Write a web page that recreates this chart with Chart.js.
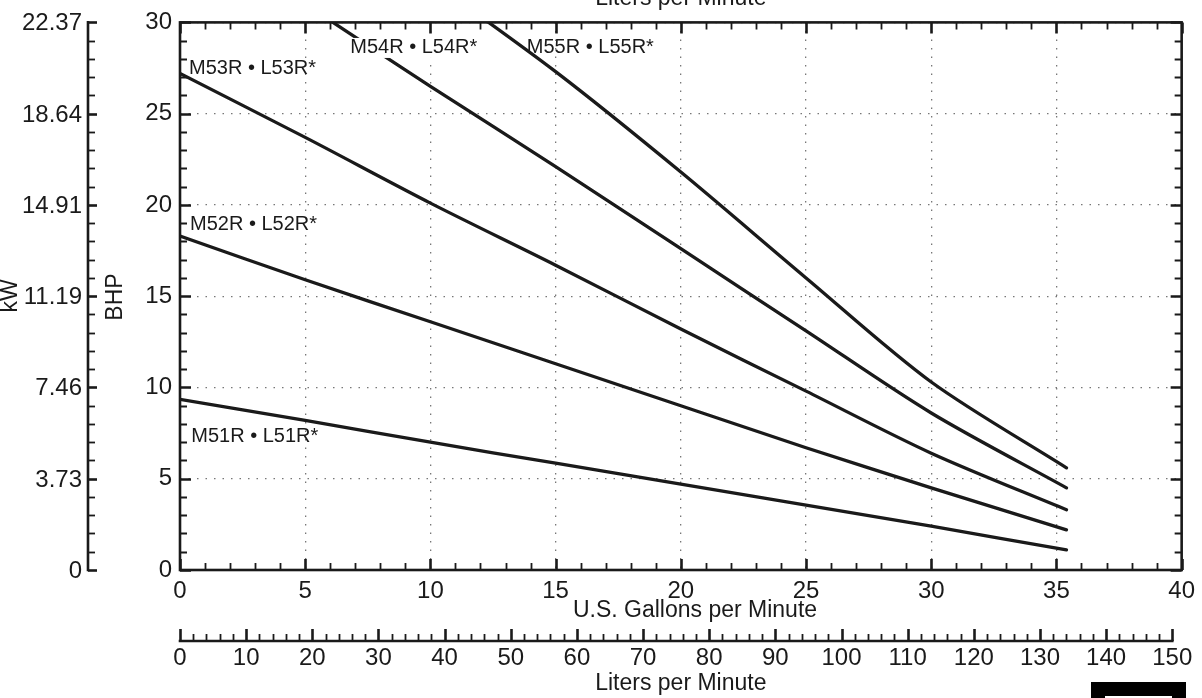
<!DOCTYPE html>
<html><head><meta charset="utf-8">
<script src="https://cdn.jsdelivr.net/npm/chart.js@4.4.1/dist/chart.umd.min.js"></script>
<style>html,body{margin:0;padding:0;background:#fff;overflow:hidden}#wrap{position:relative;width:1202px;height:698px}</style>
</head><body><div id="wrap"><canvas id="c" width="1202" height="698"></canvas></div>
<script>
// ---- data ----
const gpm = [0, 5, 10, 15, 20, 25, 30, 35.4];
const m51 = [9.35, 8.2, 7.0, 5.85, 4.7, 3.55, 2.4, 1.1];
const m52 = [18.3, 15.9, 13.6, 11.3, 9.0, 6.7, 4.5, 2.2];
const m53 = [27.2, 23.7, 20.1, 16.7, 13.2, 9.8, 6.4, 3.3];
const m54 = [null, 31.0, 26.5, 22.1, 17.6, 13.1, 8.6, 4.5];
const m55 = [null, null, 32.3, 27.3, 21.8, 16.0, 10.3, 5.6];
const seriesNames = ['M51R • L51R*', 'M52R • L52R*', 'M53R • L53R*', 'M54R • L54R*', 'M55R • L55R*'];
const gpmTicks = [0, 5, 10, 15, 20, 25, 30, 35, 40];
const bhpTicks = [0, 5, 10, 15, 20, 25, 30];
const kwLabels = ['0', '3.73', '7.46', '11.19', '14.91', '18.64', '22.37'];
const lpmLabels = [0, 10, 20, 30, 40, 50, 60, 70, 80, 90, 100, 110, 120, 130, 140, 150];
const xTitle = 'U.S. Gallons per Minute';
const lpmTitle = 'Liters per Minute';
const bhpTitle = 'BHP';
const kwTitle = 'kW';
// label anchors (gpm, bhp)
const labelAnchors = [[0.45, 7.3], [0.4, 18.95], [0.36, 27.5], [6.8, 28.6], [13.85, 28.6]];

const KW_PER_HP = 0.7457;
const L_PER_GAL = 3.78541;
const FONT = "'Liberation Sans', Arial, Helvetica, sans-serif";
const INK = '#1a1a1a';
const TXT = '#1a1a1a';

const allSeries = [m51, m52, m53, m54, m55];

const framePlugin = {
  id: 'frame',
  afterDatasetsDraw(chart) {
    const ctx = chart.ctx;
    const a = chart.chartArea;
    const x = chart.scales.x, y = chart.scales.y, kw = chart.scales.kw, lpm = chart.scales.lpm;
    ctx.save();
    ctx.strokeStyle = INK; ctx.fillStyle = INK;
    ctx.lineCap = 'butt';
    // frame
    ctx.lineWidth = 2.6;
    ctx.strokeRect(a.left, a.top, a.right - a.left, a.bottom - a.top);
    // inward ticks on x (top & bottom)
    for (let v = 0; v <= 40; v++) {
      const px = Math.round(x.getPixelForValue(v)) + 0.5;
      const len = v % 5 === 0 ? 11 : 7;
      ctx.lineWidth = v % 5 === 0 ? 2.6 : 1.8;
      ctx.beginPath();
      ctx.moveTo(px, a.bottom); ctx.lineTo(px, a.bottom - len);
      ctx.moveTo(px, a.top); ctx.lineTo(px, a.top + len);
      ctx.stroke();
    }
    for (let v = 0; v <= 30; v++) {
      const py = Math.round(y.getPixelForValue(v)) + 0.5;
      const len = v % 5 === 0 ? 11 : 7;
      ctx.lineWidth = v % 5 === 0 ? 2.6 : 1.8;
      ctx.beginPath();
      ctx.moveTo(a.left, py); ctx.lineTo(a.left + len, py);
      ctx.moveTo(a.right, py); ctx.lineTo(a.right - len, py);
      ctx.stroke();
    }
    // kW axis
    const kwX = 88;
    const kwMax = parseFloat(kwLabels[kwLabels.length - 1]);
    ctx.lineWidth = 2.6;
    ctx.beginPath();
    ctx.moveTo(kwX, kw.getPixelForValue(0) + 1.3);
    ctx.lineTo(kwX, kw.getPixelForValue(kwMax) - 1.3);
    ctx.stroke();
    const kwStep = kwMax / (kwLabels.length - 1);
    ctx.font = '24px ' + FONT;
    ctx.textAlign = 'right'; ctx.textBaseline = 'middle';
    for (let i = 0; i < kwLabels.length; i++) {
      const base = i * kwStep;
      const py = Math.round(kw.getPixelForValue(base)) + 0.5;
      ctx.lineWidth = 2.6;
      ctx.beginPath(); ctx.moveTo(kwX, py); ctx.lineTo(kwX + 9, py); ctx.stroke();
      ctx.fillStyle = TXT;
      ctx.fillText(kwLabels[i], 82, py + 1);
      if (i < kwLabels.length - 1) {
        for (let j = 1; j < 5; j++) {
          const pm = Math.round(kw.getPixelForValue(base + j * kwStep / 5)) + 0.5;
          ctx.lineWidth = 1.8;
          ctx.beginPath(); ctx.moveTo(kwX, pm); ctx.lineTo(kwX + 7, pm); ctx.stroke();
        }
      }
    }
    // L/min axis
    const lY = 641;
    const lMax = lpmLabels[lpmLabels.length - 1];
    ctx.lineWidth = 2.6;
    ctx.beginPath();
    ctx.moveTo(lpm.getPixelForValue(0) - 1.3, lY);
    ctx.lineTo(lpm.getPixelForValue(lMax) + 1.3, lY);
    ctx.stroke();
    for (let v = 0; v <= lMax; v += 2) {
      const px = Math.round(lpm.getPixelForValue(v)) + 0.5;
      const major = v % 10 === 0;
      ctx.lineWidth = major ? 2.6 : 1.8;
      ctx.beginPath(); ctx.moveTo(px, lY); ctx.lineTo(px, lY - (major ? 12 : 7)); ctx.stroke();
    }
    ctx.textAlign = 'center'; ctx.textBaseline = 'middle';
    ctx.fillStyle = TXT;
    lpmLabels.forEach(v => ctx.fillText(String(v), lpm.getPixelForValue(v), 658));
    // titles
    ctx.font = '23px ' + FONT;
    ctx.fillText(xTitle, 695, 611);
    ctx.fillText(lpmTitle, (a.left + a.right) / 2, 684);
    ctx.textBaseline = 'alphabetic';
    ctx.fillText(lpmTitle, (a.left + a.right) / 2, 5);
    ctx.textBaseline = 'middle';
    ctx.save(); ctx.translate(11, 296); ctx.rotate(-Math.PI / 2); ctx.fillText(kwTitle, 0, 0); ctx.restore();
    ctx.save(); ctx.translate(116, 297); ctx.rotate(-Math.PI / 2); ctx.fillText(bhpTitle, 0, 0); ctx.restore();
    // series labels
    ctx.font = '20px ' + FONT;
    ctx.textAlign = 'left'; ctx.textBaseline = 'middle';
    seriesNames.forEach((name, i) => {
      const px = x.getPixelForValue(labelAnchors[i][0]);
      const py = y.getPixelForValue(labelAnchors[i][1]);
      if (i === 3) {
        const w = ctx.measureText(name).width;
        ctx.fillStyle = '#fff';
        ctx.fillRect(px - 2, py - 10, w + 4, 20);
      }
      ctx.fillStyle = TXT;
      ctx.fillText(name, px, py);
    });
    // corner box
    ctx.fillStyle = '#000';
    ctx.fillRect(1091, 682, 95, 16);
    ctx.fillStyle = '#fff';
    ctx.fillRect(1105, 696, 67, 2);
    ctx.restore();
  }
};

new Chart(document.getElementById('c').getContext('2d'), {
  type: 'line',
  data: {
    datasets: allSeries.map((vals, i) => ({
      label: seriesNames[i],
      data: gpm.map((g, k) => ({ x: g, y: vals[k] })).filter(p => p.y !== null),
      borderColor: INK,
      borderWidth: 3.3,
      borderCapStyle: 'round',
      pointRadius: 0,
      tension: 0.3,
      fill: false,
      clip: 0,
      xAxisID: 'x', yAxisID: 'y'
    }))
  },
  options: {
    responsive: false, animation: false, devicePixelRatio: 1,
    layout: { padding: { left: 80, right: 19, top: 17, bottom: 0 } },
    plugins: { legend: { display: false }, tooltip: { enabled: false } },
    scales: {
      x: {
        type: 'linear', position: 'bottom', min: 0, max: 40,
        afterFit(s) { s.height = 128; },
        afterBuildTicks(s) { s.ticks = gpmTicks.map(v => ({ value: v })); },
        ticks: { padding: 7, font: { family: FONT, size: 24 }, color: TXT, maxRotation: 0, autoSkip: false },
        grid: { color: '#777', lineWidth: 1.3, drawTicks: false },
        border: { display: false, dash: [1.5, 7] }
      },
      y: {
        type: 'linear', position: 'left', min: 0, max: 30,
        afterFit(s) { s.width = 100; },
        afterBuildTicks(s) { s.ticks = bhpTicks.map(v => ({ value: v })); },
        ticks: { padding: 8, font: { family: FONT, size: 24 }, color: TXT, autoSkip: false },
        grid: { color: '#777', lineWidth: 1.3, drawTicks: false },
        border: { display: false, dash: [1.5, 7] }
      },
      kw: { type: 'linear', axis: 'y', position: 'left', display: false, min: 0, max: 30 * KW_PER_HP },
      lpm: { type: 'linear', axis: 'x', position: 'bottom', display: false, min: 0, max: 40 * L_PER_GAL }
    }
  },
  plugins: [framePlugin]
});
</script>
</body></html>
